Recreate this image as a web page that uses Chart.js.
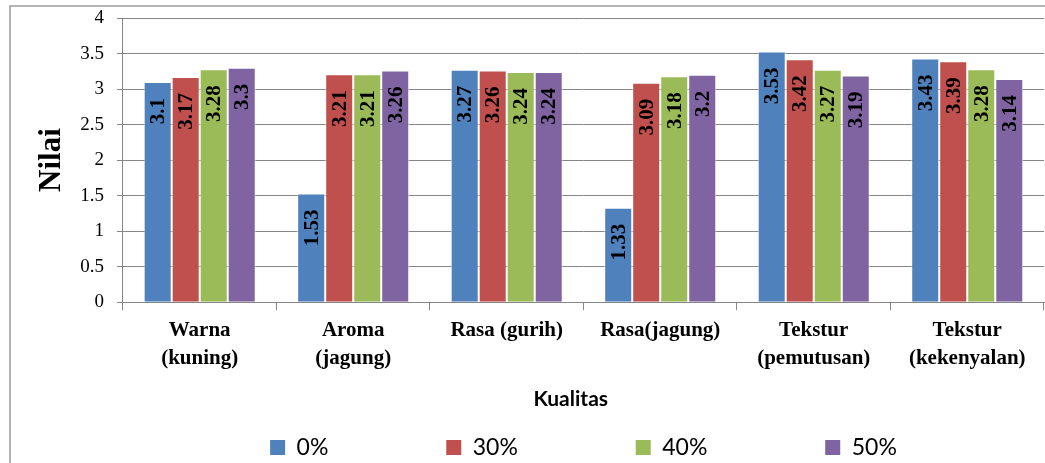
<!DOCTYPE html>
<html>
<head>
<meta charset="utf-8">
<script src="https://cdn.jsdelivr.net/npm/chart.js@4.4.0/dist/chart.umd.min.js"></script>
<style>
  html, body { margin: 0; padding: 0; background: #fff; }
  #wrap { width: 1045px; height: 463px; position: relative; }
</style>
</head>
<body>
<div id="wrap"><canvas id="chart" width="1045" height="463"></canvas></div>
<script>
const categories = [
  ['Warna', '(kuning)'],
  ['Aroma', '(jagung)'],
  'Rasa (gurih)',
  'Rasa(jagung)',
  ['Tekstur', '(pemutusan)'],
  ['Tekstur', '(kekenyalan)']
];
const seriesNames = ['0%', '30%', '40%', '50%'];
const values0 = [3.1, 1.53, 3.27, 1.33, 3.53, 3.43];
const values30 = [3.17, 3.21, 3.26, 3.09, 3.42, 3.39];
const values40 = [3.28, 3.21, 3.24, 3.18, 3.27, 3.28];
const values50 = [3.3, 3.26, 3.24, 3.2, 3.19, 3.14];
const colors = ['#4F81BD', '#C0504D', '#9BBB59', '#8064A2'];

const serif = '"Liberation Serif", "Times New Roman", serif';
const sans = 'Lato, "Open Sans", sans-serif';

// value labels written vertically just under the top of each bar
const barLabels = {
  id: 'barLabels',
  afterDatasetsDraw(chart) {
    const ctx = chart.ctx;
    ctx.save();
    ctx.font = 'bold 21px ' + serif;
    ctx.fillStyle = '#000';
    ctx.textAlign = 'right';
    ctx.textBaseline = 'middle';
    chart.data.datasets.forEach((ds, i) => {
      chart.getDatasetMeta(i).data.forEach((bar, j) => {
        ctx.save();
        ctx.translate(bar.x + 1, bar.y + 16);
        ctx.rotate(-Math.PI / 2);
        ctx.fillText(String(ds.data[j]), 0, 0);
        ctx.restore();
      });
    });
    ctx.restore();
  }
};

// thin grey frame of the chart object (cut off at right and bottom)
const frame = {
  id: 'frame',
  beforeDraw(chart) {
    const ctx = chart.ctx;
    ctx.save();
    ctx.strokeStyle = '#9a9a9a';
    ctx.lineWidth = 1.5;
    ctx.beginPath();
    ctx.moveTo(10, chart.height + 5);
    ctx.lineTo(10, 6);
    ctx.lineTo(chart.width + 5, 6);
    ctx.stroke();
    ctx.restore();
  }
};

new Chart(document.getElementById('chart'), {
  type: 'bar',
  data: {
    labels: categories,
    datasets: seriesNames.map((name, i) => ({
      label: name,
      data: [values0, values30, values40, values50][i],
      backgroundColor: colors[i],
      borderColor: 'rgba(255,255,255,0.7)',
      borderWidth: 1,
      barPercentage: 1,
      categoryPercentage: 0.73
    }))
  },
  options: {
    responsive: false,
    animation: false,
    layout: { padding: { left: 33, right: 1, top: 18, bottom: -6 } },
    plugins: {
      tooltip: { enabled: false },
      legend: {
        position: 'bottom',
        fullSize: false,
        labels: {
          font: { family: sans, size: 23 },
          color: '#000',
          boxWidth: 15,
          boxHeight: 15,
          padding: 6,
          // wide gaps between entries, as in the original legend
          generateLabels(chart) {
            const items = Chart.defaults.plugins.legend.labels.generateLabels(chart);
            items.forEach((it, i) => {
              it.lineWidth = 0;
              if (i < items.length - 1) it.text = it.text + ' '.repeat(19);
            });
            return items;
          }
        }
      }
    },
    scales: {
      x: {
        grid: {
          offset: true,
          drawOnChartArea: false,
          drawTicks: true,
          tickLength: 8,
          color: '#868686'
        },
        border: { color: '#868686' },
        ticks: {
          font: { family: serif, size: 21, weight: 'bold', lineHeight: 1.3 },
          color: '#000',
          maxRotation: 0,
          autoSkip: false,
          padding: 7
        },
        title: {
          display: true,
          text: 'Kualitas     ',
          font: { family: sans, size: 21, weight: 'bold' },
          color: '#000',
          padding: { top: 8, bottom: 18 }
        }
      },
      y: {
        min: 0,
        max: 4,
        afterFit(axis) {
          axis.paddingTop = 0;
        },
        grid: {
          color: '#868686',
          tickLength: 6
        },
        border: { color: '#868686' },
        ticks: {
          stepSize: 0.5,
          autoSkip: false,
          font: { family: serif, size: 19 },
          color: '#000',
          padding: 13,
          callback: v => String(v)
        },
        title: {
          display: true,
          text: 'Nilai',
          font: { family: serif, size: 31, weight: 'bold' },
          color: '#000',
          padding: { top: 0, bottom: -3 }
        }
      }
    }
  },
  plugins: [frame, barLabels]
});
</script>
</body>
</html>
